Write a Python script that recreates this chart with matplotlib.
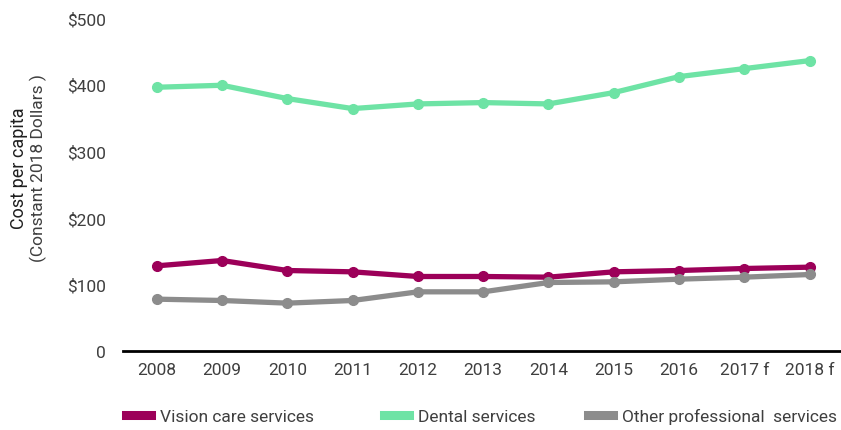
import numpy as np
import matplotlib.pyplot as plt

plt.rcParams['font.family'] = ['Roboto', 'DejaVu Sans']

years = ['2008', '2009', '2010', '2011', '2012', '2013', '2014', '2015', '2016', '2017 f', '2018 f']
vision = [128, 136, 121, 119, 112, 112, 111, 119, 121, 124, 126]
dental = [396, 399, 379, 364, 371, 373, 371, 388, 412, 424, 436]
other = [78, 76, 72, 76, 89, 89, 103, 104, 108, 111, 115]

y_ticks = [0, 100, 200, 300, 400, 500]
y_labels = ['0', '$100', '$200', '$300', '$400', '$500']

series = [
    ('Vision care services', vision, '#9c0059'),
    ('Dental services', dental, '#6ee3a5'),
    ('Other professional  services', other, '#8c8c8c'),
]
# left edge of each legend handle, in figure pixels
legend_x = [126, 384, 588]

text_color = '#3f3f3f'

fig = plt.figure(figsize=(8.41, 4.31), dpi=100)
ax = fig.add_axes([0.146, 0.183, 0.854, 0.773])

x = np.arange(len(years))
for name, vals, color in series:
    ax.plot(x, vals, color=color, linewidth=3.8, marker='o', markersize=7,
            solid_capstyle='round', label=name)

ax.set_xlim(-0.52, len(years) - 0.52)
ax.set_ylim(0, 500)
ax.set_xticks(x)
ax.set_xticklabels(years)
ax.set_yticks(y_ticks)
ax.set_yticklabels(y_labels)
ax.tick_params(axis='both', length=0, labelsize=12.5, colors=text_color)
ax.tick_params(axis='x', pad=8)
ax.tick_params(axis='y', pad=12)

for side in ['left', 'right', 'top']:
    ax.spines[side].set_visible(False)
ax.spines['bottom'].set_linewidth(2)
ax.spines['bottom'].set_color('black')

fig.text(0.022, 0.61, 'Cost per capita', rotation=90, ha='center', va='center',
         fontsize=13, color='#1f1f1f')
fig.text(0.046, 0.61, '(Constant 2018 Dollars )', rotation=90, ha='center', va='center',
         fontsize=12.5, color=text_color)

# one legend per entry so the gaps can follow the reference
for (name, _, color), lx in zip(series, legend_x):
    h = plt.Line2D([], [], color=color, linewidth=6.5)
    fig.legend([h], [name], loc='center left', bbox_to_anchor=(lx / 841, 0.032),
               frameon=False, fontsize=12.5, handlelength=1.45, handletextpad=0.5,
               borderpad=0, borderaxespad=0, labelcolor=text_color)

fig.savefig('out.png', dpi=100)
